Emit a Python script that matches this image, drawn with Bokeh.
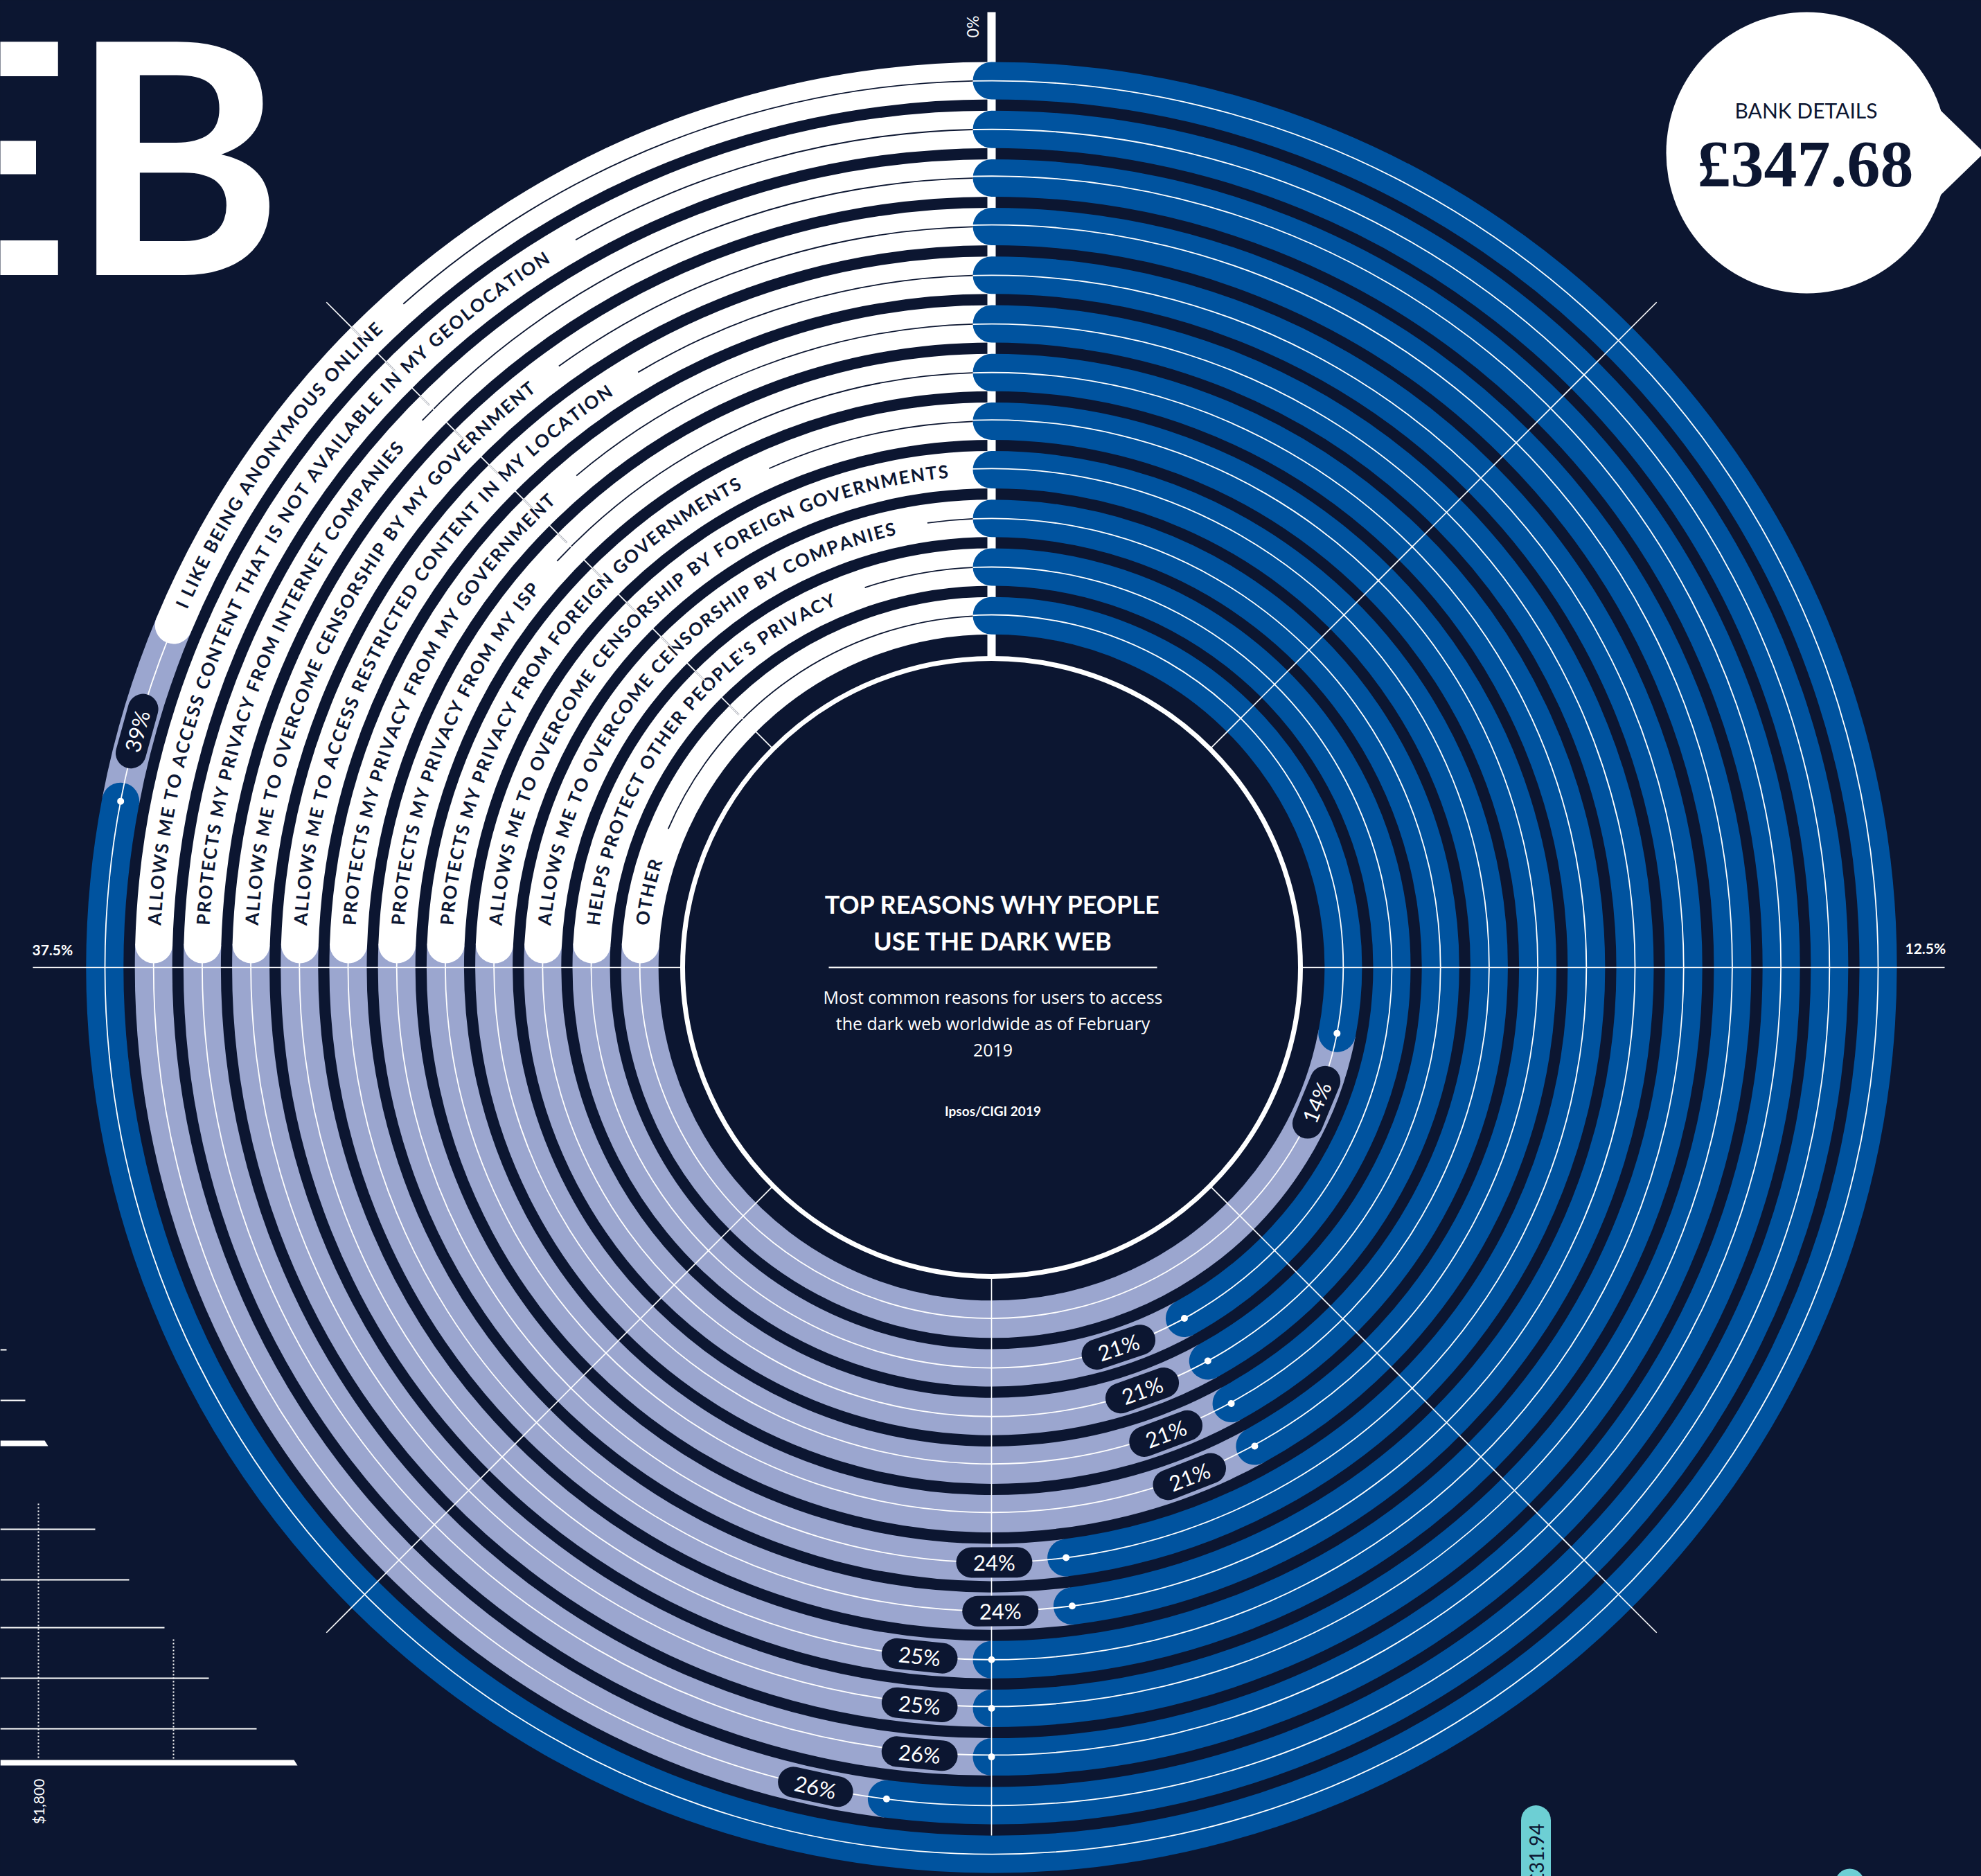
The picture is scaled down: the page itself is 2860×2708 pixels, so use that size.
import glob, os, math
from bokeh.plotting import figure
from bokeh.models import Range1d
from bokeh.embed import file_html
from bokeh.resources import INLINE
from bokeh.core.properties import value

# ---------------- data ----------------
reasons = [
    "I LIKE BEING ANONYMOUS ONLINE",
    "ALLOWS ME TO ACCESS CONTENT THAT IS NOT AVAILABLE IN MY GEOLOCATION",
    "PROTECTS MY PRIVACY FROM INTERNET COMPANIES",
    "ALLOWS ME TO OVERCOME CENSORSHIP BY MY GOVERNMENT",
    "ALLOWS ME TO ACCESS RESTRICTED CONTENT IN MY LOCATION",
    "PROTECTS MY PRIVACY FROM MY GOVERNMENT",
    "PROTECTS MY PRIVACY FROM MY ISP",
    "PROTECTS MY PRIVACY FROM FOREIGN GOVERNMENTS",
    "ALLOWS ME TO OVERCOME CENSORSHIP BY FOREIGN GOVERNMENTS",
    "ALLOWS ME TO OVERCOME CENSORSHIP BY COMPANIES",
    "HELPS PROTECT OTHER PEOPLE'S PRIVACY",
    "OTHER",
]
shares = [39, 26, 25, 25, 25, 24, 24, 21, 21, 21, 21, 14]
share_labels = ["39%", "26%", "26%", "25%", "25%", "24%", "24%", "21%", "21%", "21%", "21%", "14%"]
tick_values = [0, 12.5, 37.5]
tick_labels = ["0%", "12.5%", "37.5%"]
FULL_CIRCLE_PCT = 50.0

title_lines = ["TOP REASONS WHY PEOPLE", "USE THE DARK WEB"]
subtitle_lines = ["Most common reasons for users to access", "the dark web worldwide as of February", "2019"]
source_text = "Ipsos/CIGI 2019"

# fragments of the neighbouring infographic panels
side_bar_lengths = [9, 36, 69, 137, 186, 237, 301, 370, 429]
side_bar_thick = [False, False, True, False, False, False, False, False, True]
side_axis_label = "$1,800"
bubble_title = "BANK DETAILS"
bubble_value = "£347.68"
teal_value = "£31.94"
big_word = "WEB"

# ---------------- style / layout ----------------
NAVY = "#0c1631"
BLUE = "#00539f"
PERI = "#9ba6cf"
WHITE = "#ffffff"
TEAL = "#6dcfd4"

W, H = 2860, 2708
def yd(Y):
    return H - Y

CX, CY = 1431.0, yd(1396.0)
R_OUT = 1280.0
PITCH = 70.2
BW = 54
INNER_R = 446
GUIDE_R = 1358
radii = [R_OUT - i * PITCH for i in range(len(reasons))]

LABEL_FS = 26
LABEL_LS = 2.2
TEXT_PAD = 28
LINE_GAP = 45
PILL_OFF = 104
PILL_L = 110
PILL_H = 44

def theta_of(pct):
    return math.radians(pct * 360.0 / FULL_CIRCLE_PCT)

def pos(th, r):
    return CX + r * math.sin(th), CY + r * math.cos(th)

def phi(th):
    return math.pi / 2 - th

# ---------------- font metrics ----------------
def find_font(patterns):
    roots = ["/usr/share/fonts", "/usr/local/share/fonts",
             os.path.expanduser("~/.fonts"), os.path.expanduser("~/.local/share/fonts")]
    for pat in patterns:
        for root in roots:
            hits = glob.glob(os.path.join(root, "**", pat), recursive=True)
            if hits:
                return sorted(hits)[0]
    return None

ARIAL = {'A':667,'B':667,'C':722,'D':722,'E':667,'F':611,'G':778,'H':722,'I':278,'J':500,'K':667,
         'L':556,'M':833,'N':722,'O':778,'P':667,'Q':778,'R':722,'S':667,'T':611,'U':722,'V':667,
         'W':944,'X':667,'Y':667,'Z':611,' ':278,"'":191,'%':889,'.':278,',':278}
_font = None
try:
    from PIL import ImageFont
    fp = find_font(["Lato-Bold.ttf", "Lato-Bold.otf"])
    if fp:
        _font = ImageFont.truetype(fp, 200)
except Exception:
    _font = None

def char_widths(s, fs):
    if _font is not None:
        return [_font.getlength(c) * fs / 200.0 for c in s]
    return [ARIAL.get(c, 600) * fs / 1000.0 for c in s]

# ---------------- figure ----------------
p = figure(width=W, height=H, x_range=Range1d(0, W), y_range=Range1d(0, H),
           output_backend="svg", toolbar_location=None,
           x_axis_location=None, y_axis_location=None,
           background_fill_color=NAVY, border_fill_color=NAVY,
           outline_line_color=None, min_border=0)
p.grid.visible = False

# thick 0% guide (under the rings)
p.quad(left=[CX - 6], right=[CX + 6], bottom=[yd(950)], top=[yd(17)], fill_color=WHITE, line_color=None)

n = len(reasons)
th_vals = [theta_of(v) for v in shares]
th_ws = []
for r, th in zip(radii, th_vals):
    th_ws.append(max(math.radians(270) + math.asin((BW / 2 + 6) / r), th + 266.0 / r))

# periwinkle remainder
p.arc(x=[CX] * n, y=[CY] * n, radius=radii,
      start_angle=[phi(t) for t in th_vals], end_angle=[phi(t) for t in th_ws],
      direction="clock", line_width=BW, line_color=PERI, line_cap="butt")
# white label bands
p.arc(x=[CX] * n, y=[CY] * n, radius=radii,
      start_angle=[phi(t) for t in th_ws], end_angle=[phi(2 * math.pi)] * n,
      direction="clock", line_width=BW, line_color=WHITE, line_cap="round")
# blue value bars
p.arc(x=[CX] * n, y=[CY] * n, radius=radii,
      start_angle=[phi(0.0)] * n, end_angle=[phi(t) for t in th_vals],
      direction="clock", line_width=BW, line_color=BLUE, line_cap="round")

# thin centre lines
p.arc(x=[CX] * n, y=[CY] * n, radius=radii, start_angle=[0.0] * n, end_angle=[2 * math.pi - 1e-4] * n,
      direction="anticlock", line_width=1.8, line_color=WHITE)

# curved labels
cx_, cy_, ch_, ang_ = [], [], [], []
dark_r, dark_s, dark_e = [], [], []
for r, txt, tws in zip(radii, reasons, th_ws):
    ws = char_widths(txt, LABEL_FS)
    s = TEXT_PAD
    for c, w in zip(txt, ws):
        th = tws + (s + w / 2) / r
        x, y = pos(th, r + 1)
        cx_.append(x); cy_.append(y); ch_.append(c); ang_.append(-th)
        s += w + LABEL_LS
    t0 = tws + (s + LINE_GAP) / r
    t1 = 2 * math.pi - (BW / 2) / r
    if t0 < t1:
        dark_r.append(r); dark_s.append(phi(t0)); dark_e.append(phi(t1))
m = len(dark_r)
if m:
    p.arc(x=[CX] * m, y=[CY] * m, radius=dark_r, start_angle=dark_s, end_angle=dark_e,
          direction="clock", line_width=1.8, line_color=NAVY)

# diagonal guide ticks where the guide crosses the white bands
tk = math.radians(315)
tx0, ty0, tx1, ty1 = [], [], [], []
for r in radii:
    a = pos(tk, r + 8); b = pos(tk, r + BW / 2)
    tx0.append(a[0]); ty0.append(a[1]); tx1.append(b[0]); ty1.append(b[1])
p.segment(x0=tx0, y0=ty0, x1=tx1, y1=ty1, line_color=NAVY, line_width=2)

p.text(x=cx_, y=cy_, text=ch_, angle=ang_, text_align="center", text_baseline="middle",
       text_font=value("Lato"), text_font_style="bold", text_font_size=f"{LABEL_FS}px", text_color=NAVY)

# guide lines
gx0, gy0, gx1, gy1 = [], [], [], []
for k in range(4):
    th = math.radians(45 + 90 * k)
    a = pos(th, INNER_R); b = pos(th, GUIDE_R)
    gx0.append(a[0]); gy0.append(a[1]); gx1.append(b[0]); gy1.append(b[1])
gx0 += [47, CX + INNER_R, CX]; gy0 += [CY, CY, CY - INNER_R]
gx1 += [CX - INNER_R, 2807, CX]; gy1 += [CY, CY, CY - (R_OUT - BW / 2)]
p.segment(x0=gx0, y0=gy0, x1=gx1, y1=gy1, line_color=WHITE, line_width=1.6)

# tick labels
p.text(x=[CX - 28], y=[yd(38)], text=[tick_labels[0]], angle=[math.pi / 2], text_align="center",
       text_baseline="middle", text_font=value("Lato"), text_font_size="23px", text_color=WHITE)
p.text(x=[46, 2750], y=[yd(1370), yd(1368)], text=[tick_labels[2], tick_labels[1]],
       text_align="left", text_baseline="middle", text_font=value("Lato"), text_font_style="bold",
       text_font_size="21px", text_color=WHITE)

# value end dots, pills and labels
dx, dy = [], []
px0, py0, px1, py1, tx, ty, ta = [], [], [], [], [], [], []
for r, th in zip(radii, th_vals):
    x, y = pos(th, r); dx.append(x); dy.append(y)
    tp = th + PILL_OFF / r
    c = pos(tp, r)
    ux, uy = math.cos(tp), -math.sin(tp)
    half = (PILL_L - PILL_H) / 2
    px0.append(c[0] - ux * half); py0.append(c[1] - uy * half)
    px1.append(c[0] + ux * half); py1.append(c[1] + uy * half)
    a = (-tp) % (2 * math.pi)
    if math.pi / 2 < a <= 3 * math.pi / 2:
        a -= math.pi
    elif a > 3 * math.pi / 2:
        a -= 2 * math.pi
    tx.append(c[0]); ty.append(c[1]); ta.append(a)
p.scatter(x=dx, y=dy, size=10, fill_color=WHITE, line_color=None)
p.segment(x0=px0, y0=py0, x1=px1, y1=py1, line_color=NAVY, line_width=PILL_H, line_cap="round")
p.text(x=tx, y=ty, text=share_labels, angle=ta, text_align="center", text_baseline="middle",
       text_font=value("Lato"), text_font_size="31px", text_color=WHITE)

# inner circle and centre text
p.circle(x=[CX], y=[CY], radius=INNER_R, fill_color=None, line_color=WHITE, line_width=7)
p.text(x=[1433, 1433], y=[yd(1304), yd(1357)], text=title_lines, text_align="center",
       text_baseline="middle", text_font=value("Lato"), text_font_style="bold",
       text_font_size="36px", text_color=WHITE)
p.segment(x0=[1196], y0=[CY], x1=[1670], y1=[CY], line_color=WHITE, line_width=2)
p.text(x=[1433] * 3, y=[yd(1438), yd(1476), yd(1515)], text=subtitle_lines, text_align="center",
       text_baseline="middle", text_font=value("Open Sans"), text_font_size="25px", text_color=WHITE)
p.text(x=[1433], y=[yd(1603)], text=[source_text], text_align="center", text_baseline="middle",
       text_font=value("Lato"), text_font_style="bold", text_font_size="19px", text_color=WHITE)

# big title fragment
p.text(x=[408], y=[yd(216)], text=[big_word], text_align="right", text_baseline="middle",
       text_font=value("Lato"), text_font_style="bold", text_font_size="466px", text_color=WHITE)

# bank details bubble
p.patch(x=[2790, 2864, 2790], y=[yd(148), yd(220), yd(292)], fill_color=WHITE, line_color=None)
p.circle(x=[2608], y=[yd(220)], radius=203, fill_color=WHITE, line_color=None)
p.text(x=[2607], y=[yd(158)], text=[bubble_title], text_align="center", text_baseline="middle",
       text_font=value("Lato"), text_font_size="30px", text_color=NAVY)
p.text(x=[2606], y=[yd(236)], text=[bubble_value], text_align="center", text_baseline="middle",
       text_font=value("Liberation Serif"), text_font_style="bold", text_font_size="96px", text_color=NAVY)

# teal fragments at the bottom
p.segment(x0=[2217], y0=[yd(2627)], x1=[2217], y1=[yd(2760)], line_color=TEAL, line_width=43, line_cap="round")
p.text(x=[2217], y=[yd(2632)], text=[teal_value], angle=[math.pi / 2], text_align="right",
       text_baseline="middle", text_font=value("Lato"), text_font_size="28px", text_color=NAVY)
p.circle(x=[2670], y=[yd(2718)], radius=21, fill_color=TEAL, line_color=None)

# left bar-chart fragment
rows_Y = [1948, 2021, 2083, 2207, 2280, 2349, 2422, 2495, 2544]
thin_x0, thin_y0, thin_x1, thin_y1 = [], [], [], []
for L, Y, thick in zip(side_bar_lengths, rows_Y, side_bar_thick):
    if thick:
        p.patch(x=[0, L - 5, L, 0], y=[yd(Y - 4), yd(Y - 4), yd(Y + 4), yd(Y + 4)],
                fill_color=WHITE, line_color=None)
    else:
        thin_x0.append(0); thin_y0.append(yd(Y)); thin_x1.append(L); thin_y1.append(yd(Y))
p.segment(x0=thin_x0, y0=thin_y0, x1=thin_x1, y1=thin_y1, line_color=WHITE, line_width=2)
p.segment(x0=[55, 250], y0=[yd(2170), yd(2366)], x1=[55, 250], y1=[yd(2540), yd(2540)],
          line_color=WHITE, line_width=2, line_dash="2 3")
p.text(x=[55], y=[yd(2600)], text=[side_axis_label], angle=[math.pi / 2], text_align="center",
       text_baseline="middle", text_font=value("Lato"), text_font_size="21px", text_color=WHITE)

html = file_html(p, INLINE, title="Top reasons why people use the dark web")
html = html.replace("<head>", "<head><style>html,body{background:%s;}</style>" % NAVY, 1)
open("out.html", "w").write(html)
